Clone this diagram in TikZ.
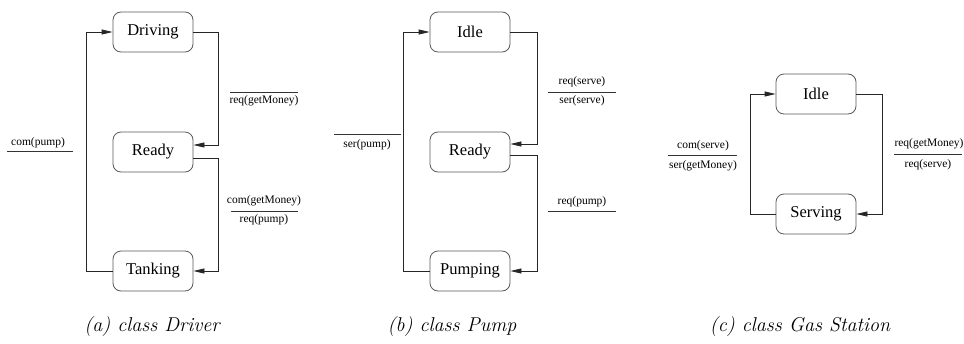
\documentclass[tikz,border=0pt]{standalone}
\usepackage{fontspec}
\setmainfont{Liberation Serif}
\newfontfamily\lmfont{Latin Modern Roman}
\usetikzlibrary{arrows.meta}
\begin{document}
\begin{tikzpicture}[x=1pt,y=-1pt,
  state/.style={draw=black!65, line width=0.8pt, rounded corners=8pt, minimum width=80pt, minimum height=40pt, inner sep=0pt, font=\fontsize{16.5}{18}\selectfont},
  conn/.style={line width=0.8pt, draw=black!85},
  arr/.style={conn, -{Triangle[length=11pt,width=5pt]}},
  lbl/.style={inner sep=0pt, font=\fontsize{11.5}{13}\selectfont},
  bar/.style={line width=0.8pt, draw=black!80},
  captext/.style={inner sep=0pt, font=\lmfont\itshape\fontsize{20}{22}\selectfont}]
\useasboundingbox (0,0) rectangle (964,343);
% ---------- (a) Driver ----------
\node[state] (aD) at (153,32) {Driving};
\node[state] (aR) at (153,152) {Ready};
\node[state] (aT) at (153,271) {Tanking};
\coordinate (aRin) at ([yshift=7pt]aR.east);
\coordinate (aRout) at ([yshift=-6pt]aR.east);
\draw[arr] (aT.west) -| (86,32) -- (aD.west);
\draw[arr] (aD.east) -| (218,145) -- (aRin);
\draw[arr] (aRout) -| (218,271) -- (aT.east);
\node[lbl] (acom) at (38,143) {com(pump)};
\coordinate (ab1s) at (7,151); \coordinate (ab1e) at (73,151);
\draw[bar] (ab1s) -- (ab1e);
\coordinate (ab2s) at (230,92); \coordinate (ab2e) at (298,92);
\draw[bar] (ab2s) -- (ab2e);
\node[lbl] (areqm) at (264,101) {req(getMoney)};
\node[lbl] (acomm) at (264,201) {com(getMoney)};
\coordinate (ab3s) at (231,211); \coordinate (ab3e) at (298,211);
\draw[bar] (ab3s) -- (ab3e);
\node[lbl] (areqp) at (264,220) {req(pump)};
\node[captext] (acap) at (152,327) {(a) class Driver};
% ---------- (b) Pump ----------
\node[state] (bI) at (470,32) {Idle};
\node[state] (bR) at (470,152) {Ready};
\node[state] (bP) at (470,271) {Pumping};
\coordinate (bRin) at ([yshift=8pt]bR.east);
\coordinate (bRout) at ([yshift=-3pt]bR.east);
\draw[arr] (bP.west) -| (403,32) -- (bI.west);
\draw[arr] (bI.east) -| (537,144) -- (bRin);
\draw[arr] (bRout) -| (537,271) -- (bP.east);
\coordinate (bb1s) at (334,134); \coordinate (bb1e) at (401,134);
\draw[bar] (bb1s) -- (bb1e);
\node[lbl] (bser) at (367,145) {ser(pump)};
\node[lbl] (breqs) at (582,82) {req(serve)};
\coordinate (bb2s) at (548,92); \coordinate (bb2e) at (616,92);
\draw[bar] (bb2s) -- (bb2e);
\node[lbl] (bsers) at (582,101) {ser(serve)};
\node[lbl] (breqp) at (582,202) {req(pump)};
\coordinate (bb3s) at (548,211); \coordinate (bb3e) at (616,211);
\draw[bar] (bb3s) -- (bb3e);
\node[captext] (bcap) at (452,327) {(b) class Pump};
% ---------- (c) Gas Station ----------
\node[state] (cI) at (816,94) {Idle};
\node[state] (cS) at (816,214) {Serving};
\draw[arr] (cS.west) -| (750,94) -- (cI.west);
\draw[arr] (cI.east) -| (882,214) -- (cS.east);
\node[lbl] (ccom) at (703,146) {com(serve)};
\coordinate (cb1s) at (668,155); \coordinate (cb1e) at (737,155);
\draw[bar] (cb1s) -- (cb1e);
\node[lbl] (cser) at (703,166) {ser(getMoney)};
\node[lbl] (creqm) at (929,144) {req(getMoney)};
\coordinate (cb2s) at (894,154); \coordinate (cb2e) at (962,154);
\draw[bar] (cb2s) -- (cb2e);
\node[lbl] (creqs) at (928,165) {req(serve)};
\node[captext] (ccap) at (800,327) {(c) class Gas Station};
\end{tikzpicture}
\end{document}
